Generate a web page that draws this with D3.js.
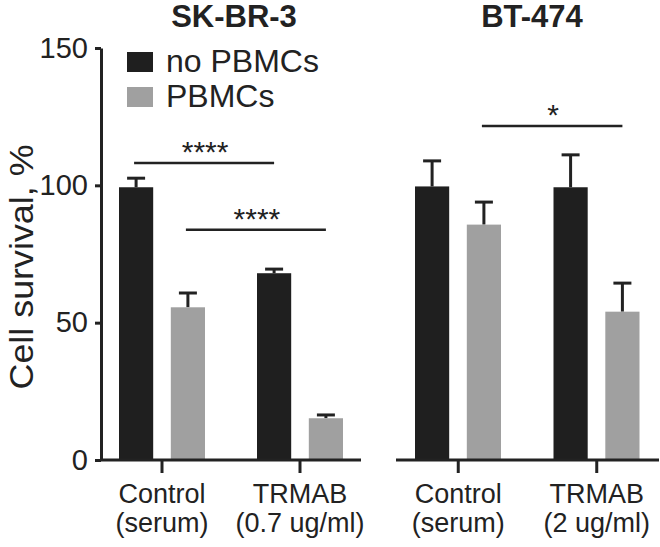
<!DOCTYPE html>
<html><head><meta charset="utf-8">
<script src="https://cdn.jsdelivr.net/npm/d3@7"></script>
<style>body{margin:0;background:#fff}svg{display:block}</style>
</head><body><div id="chart"></div>
<script>
const panels = ["SK-BR-3", "BT-474"];
const groups = ["Control", "TRMAB"];
const seriesNames = ["no PBMCs", "PBMCs"];
const groupLine2 = [["(serum)", "(0.7 ug/ml)"], ["(serum)", "(2 ug/ml)"]];
const noPBMC = [[99.3, 68.0], [99.6, 99.3]];
const noPBMCErr = [[3.3, 1.5], [9.3, 11.8]];
const withPBMC = [[55.6, 15.2], [85.7, 54.0]];
const withPBMCErr = [[5.2, 1.2], [8.2, 10.4]];
const yTicks = [0, 50, 100, 150];
const sigPanel = [0, 0, 1];
const sigFrom = [["Control", "no PBMCs"], ["Control", "PBMCs"], ["Control", "PBMCs"]];
const sigTo = [["TRMAB", "no PBMCs"], ["TRMAB", "PBMCs"], ["TRMAB", "PBMCs"]];
const sigY = [108.1, 83.8, 121.6];
const sigLabel = ["****", "****", "*"];

const W = 660, H = 547;
const ink = "#222", dark = "#1f1f1f", grey = "#a0a0a0";
const font = "'Liberation Sans', Arial, Helvetica, sans-serif";
const colors = d3.scaleOrdinal().domain(seriesNames).range([dark, grey]);

const svg = d3.select("#chart").append("svg").attr("width", W).attr("height", H)
  .style("font-family", font);

const y = d3.scaleLinear().domain([0, 150]).range([460, 48]);

const panelRanges = [[93, 369], [389, 666]];
const axisExtents = [[101, 361], [396, 659]];
const titleX = [234, 532];

panels.forEach((p, pi) => {
  const x = d3.scaleBand().domain(groups).range(panelRanges[pi]).padding(0);
  const xi = d3.scaleBand().domain(seriesNames).range([26, 112]).paddingInner(0.34).paddingOuter(0);
  const g = svg.append("g");
  const data = [];
  groups.forEach((grp, gi) => {
    data.push({grp, s: seriesNames[0], v: noPBMC[pi][gi], e: noPBMCErr[pi][gi]});
    data.push({grp, s: seriesNames[1], v: withPBMC[pi][gi], e: withPBMCErr[pi][gi]});
  });
  const cx = d => x(d.grp) + xi(d.s) + xi.bandwidth() / 2;
  g.selectAll(".err").data(data).join("line")
    .attr("x1", cx).attr("x2", cx)
    .attr("y1", d => y(d.v)).attr("y2", d => y(d.v + d.e))
    .attr("stroke", ink).attr("stroke-width", 3);
  g.selectAll(".cap").data(data).join("line")
    .attr("x1", d => cx(d) - 9).attr("x2", d => cx(d) + 9)
    .attr("y1", d => y(d.v + d.e)).attr("y2", d => y(d.v + d.e))
    .attr("stroke", ink).attr("stroke-width", 3);
  g.selectAll(".bar").data(data).join("rect")
    .attr("x", d => x(d.grp) + xi(d.s)).attr("width", xi.bandwidth())
    .attr("y", d => y(d.v)).attr("height", d => y(0) - y(d.v))
    .attr("fill", d => colors(d.s));
  const ax = g.append("g").attr("transform", `translate(0,${y(0)})`)
    .call(d3.axisBottom(x).tickSize(13).tickSizeOuter(0).tickFormat(""));
  ax.select(".domain").remove();
  ax.selectAll(".tick line").attr("stroke", ink).attr("stroke-width", 3);
  g.append("line").attr("x1", axisExtents[pi][0]).attr("x2", axisExtents[pi][1])
    .attr("y1", y(0)).attr("y2", y(0)).attr("stroke", ink).attr("stroke-width", 3);
  g.selectAll(".xl1").data(groups).join("text")
    .attr("text-anchor", "middle").attr("font-size", 27).attr("fill", ink)
    .attr("x", d => x(d) + x.bandwidth() / 2).attr("y", 503).text(d => d);
  g.selectAll(".xl2").data(groups).join("text")
    .attr("text-anchor", "middle").attr("font-size", 27).attr("fill", ink)
    .attr("x", d => x(d) + x.bandwidth() / 2).attr("y", 532).text((d, i) => groupLine2[pi][i]);
  g.append("text").attr("x", titleX[pi]).attr("y", 27).attr("text-anchor", "middle")
    .attr("font-size", 31).attr("font-weight", "bold").attr("fill", ink).text(p);
  sigY.forEach((sv, si) => {
    if (sigPanel[si] !== pi) return;
    const x1 = x(sigFrom[si][0]) + xi(sigFrom[si][1]) + xi.bandwidth() / 2;
    const x2 = x(sigTo[si][0]) + xi(sigTo[si][1]) + xi.bandwidth() / 2;
    g.append("line").attr("x1", x1 - 2).attr("x2", x2).attr("y1", y(sv)).attr("y2", y(sv))
      .attr("stroke", ink).attr("stroke-width", 2.5);
    g.append("text").attr("x", (x1 + x2) / 2).attr("y", y(sv) - 1).attr("text-anchor", "middle")
      .attr("font-size", 30).attr("fill", ink).text(sigLabel[si]);
  });
});

const yAx = svg.append("g").attr("transform", "translate(101,0)")
  .call(d3.axisLeft(y).tickValues(yTicks).tickSize(6).tickSizeOuter(0).tickPadding(7));
yAx.select(".domain").attr("stroke", ink).attr("stroke-width", 3);
yAx.selectAll(".tick line").attr("stroke", ink).attr("stroke-width", 3);
yAx.selectAll(".tick text").attr("font-size", 29).attr("font-family", font).attr("fill", ink);
svg.append("text").attr("transform", `translate(33,267) rotate(-90)`)
  .attr("text-anchor", "middle").attr("font-size", 34).attr("fill", ink)
  .attr("textLength", 245).attr("lengthAdjust", "spacingAndGlyphs").text("Cell survival, %");

const leg = svg.append("g");
seriesNames.forEach((s, i) => {
  leg.append("rect").attr("x", 127).attr("y", 52 + i * 35).attr("width", 26).attr("height", 20)
    .attr("fill", colors(s));
  leg.append("text").attr("x", 166).attr("y", 72 + i * 35).attr("font-size", 32)
    .attr("fill", ink).text(s);
});
</script></body></html>
